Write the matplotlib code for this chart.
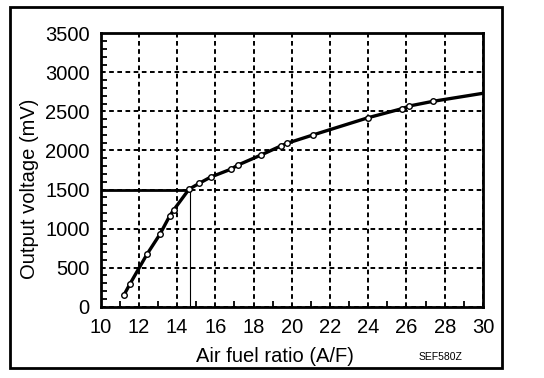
import matplotlib
matplotlib.use("Agg")
import matplotlib.pyplot as plt
from matplotlib.patches import Rectangle

# air fuel ratio vs sensor output voltage
af_ratio = [11.22, 11.53, 12.42, 13.10, 13.61, 13.82, 14.62, 15.16, 15.76, 16.80,
            17.19, 18.39, 19.42, 19.75, 21.10, 24.00, 25.76, 26.14, 27.38]
voltage = [150, 290, 670, 927, 1161, 1238, 1503, 1580, 1660, 1759,
           1814, 1942, 2057, 2092, 2198, 2420, 2535, 2569, 2629]
curve_end = (30, 2732)
stoich_af = 14.65
stoich_mv = 1500
x_ticks = list(range(10, 31, 2))
y_ticks = list(range(0, 3501, 500))

plt.rcParams["font.family"] = ["Liberation Sans", "DejaVu Sans"]

fig = plt.figure(figsize=(5.44, 3.78), dpi=100)
ax = fig.add_axes([0.185, 0.1886, 0.7028, 0.7233])

ax.plot(af_ratio + [curve_end[0]], voltage + [curve_end[1]], color="black", lw=2.4, zorder=3)
ax.plot(af_ratio, voltage, "o", ms=4, mfc="white", mec="black", mew=1.0, zorder=4)

ax.plot([10, stoich_af], [stoich_mv, stoich_mv], color="black", lw=2.0, zorder=3)
ax.plot([stoich_af, stoich_af], [0, stoich_mv], color="black", lw=0.8, zorder=3)

ax.set_xlim(10, 30)
ax.set_ylim(0, 3500)
ax.set_xticks(x_ticks)
ax.set_yticks(y_ticks)
ax.set_xticks(range(10, 31), minor=True)
ax.set_yticks(range(0, 3501, 100), minor=True)
ax.tick_params(which="both", direction="in", width=1.3, labelsize=14.5)
ax.tick_params(which="major", length=0, pad=8)
ax.tick_params(which="minor", length=4)
ax.grid(True, which="major", color="black", lw=1.4, linestyle=(0, (2.4, 1.8)))
for s in ax.spines.values():
    s.set_linewidth(2.0)

ax.set_xlabel("Air fuel ratio (A/F)", fontsize=14.5)
ax.set_ylabel("Output voltage (mV)", fontsize=14.5)
ax.xaxis.set_label_coords(0.456, -0.147)
ax.yaxis.set_label_coords(-0.161, 0.43)
fig.text(0.81, 0.056, "SEF580Z", fontsize=7.5, ha="center", va="center")

fig.patches.append(Rectangle((0.0184, 0.0265), 0.904, 0.955, transform=fig.transFigure,
                             fill=False, lw=2.0, ec="black"))

fig.savefig("out.png", dpi=100, facecolor="white")
